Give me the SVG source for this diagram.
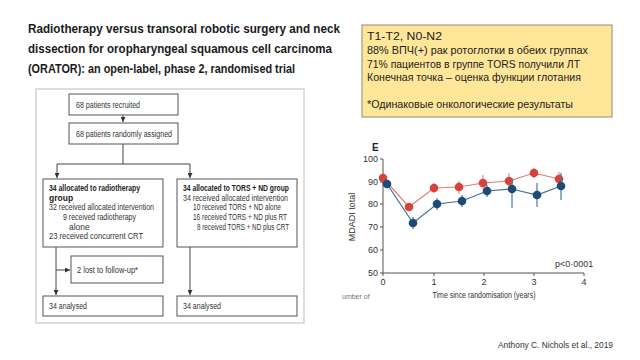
<svg xmlns="http://www.w3.org/2000/svg" width="640" height="360" viewBox="0 0 640 360">
<defs>
<marker id="ah" viewBox="0 0 10 10" refX="10" refY="5" markerWidth="5" markerHeight="5" orient="auto" markerUnits="userSpaceOnUse">
<path d="M0,0 L10,5 L0,10 Z" fill="#333"/>
</marker>
<style>
.title{font-family:"Liberation Sans",Arial,sans-serif;font-weight:bold;font-size:12.5px;fill:#1a1a1a}
.yb{font-family:"Liberation Sans",Arial,sans-serif;font-size:11px;fill:#222}
.box{fill:#fff;stroke:#555;stroke-width:1}
.ft{font-family:"Liberation Sans",Arial,sans-serif;font-size:8.5px;fill:#333}
.fb{font-family:"Liberation Sans",Arial,sans-serif;font-size:8.5px;font-weight:bold;fill:#222}
.con{fill:none;stroke:#444;stroke-width:1}
.ax{fill:none;stroke:#555;stroke-width:1}
.tl{font-family:"Liberation Sans",Arial,sans-serif;font-size:9px;fill:#333}
.rl{fill:none;stroke:#e07a74;stroke-width:1.2}
.bl{fill:none;stroke:#3f6f93;stroke-width:1.2}
.re{stroke:#e58a84;stroke-width:1.2}
.be{stroke:#4d7b9b;stroke-width:1.2}
.rp{fill:#d8423b}
.bp{fill:#1b4c78}
</style>
</defs>
<rect width="640" height="360" fill="#fff"/>

<g id="title">
<text class="title" x="28" y="33" textLength="312" lengthAdjust="spacingAndGlyphs">Radiotherapy versus transoral robotic surgery and neck</text>
<text class="title" x="28" y="53" textLength="304" lengthAdjust="spacingAndGlyphs">dissection for oropharyngeal squamous cell carcinoma</text>
<text class="title" x="28" y="73" textLength="267" lengthAdjust="spacingAndGlyphs">(ORATOR): an open-label, phase 2, randomised trial</text>
</g>

<g id="summary">
<rect x="362" y="25" width="250" height="92" fill="#ffe699" stroke="#8f8a7a" stroke-width="1"/>
<text class="yb" x="367" y="40" textLength="75" lengthAdjust="spacingAndGlyphs">T1-T2, N0-N2</text>
<text class="yb" x="367" y="54" textLength="221" lengthAdjust="spacingAndGlyphs">88% ВПЧ(+) рак ротоглотки в обеих группах</text>
<text class="yb" x="367" y="67.5" textLength="213" lengthAdjust="spacingAndGlyphs">71% пациентов в группе TORS получили ЛТ</text>
<text class="yb" x="367" y="81" textLength="214" lengthAdjust="spacingAndGlyphs">Конечная точка – оценка функции глотания</text>
<text class="yb" x="367" y="108" textLength="206" lengthAdjust="spacingAndGlyphs">*Одинаковые онкологические результаты</text>
</g>

<rect id="frame" x="36" y="89" width="268" height="234" fill="none" stroke="#d9d0d0" stroke-width="1.5"/>

<g id="connectors">
<path class="con" d="M123,115 V122" marker-end="url(#ah)"/>
<path class="con" d="M123,144 V164 M57,164 H190"/>
<path class="con" d="M57,164 V178" marker-end="url(#ah)"/>
<path class="con" d="M190,164 V178" marker-end="url(#ah)"/>
<path class="con" d="M56,247 V295" marker-end="url(#ah)"/>
<path class="con" d="M56,270 H70" marker-end="url(#ah)"/>
<path class="con" d="M190,247 V295" marker-end="url(#ah)"/>
</g>

<g id="recruited">
<rect class="box" x="69" y="94" width="109" height="21"/>
<text class="ft" x="76" y="108" textLength="64" lengthAdjust="spacingAndGlyphs">68 patients recruited</text>
</g>
<g id="randomised">
<rect class="box" x="69" y="123" width="109" height="21"/>
<text class="ft" x="76" y="137" textLength="96" lengthAdjust="spacingAndGlyphs">68 patients randomly assigned</text>
</g>
<g id="rt-group">
<rect class="box" x="43" y="179" width="120" height="68"/>
<text class="fb" x="49" y="191" textLength="91" lengthAdjust="spacingAndGlyphs">34 allocated to radiotherapy</text>
<text class="fb" x="49" y="200.5">group</text>
<text class="ft" x="49" y="210" textLength="105" lengthAdjust="spacingAndGlyphs">32 received allocated intervention</text>
<text class="ft" x="63" y="220" textLength="73" lengthAdjust="spacingAndGlyphs">9 received radiotherapy</text>
<text class="ft" x="69" y="229.5">alone</text>
<text class="ft" x="49" y="239" textLength="94" lengthAdjust="spacingAndGlyphs">23 received concurrent CRT</text>
</g>
<g id="tors-group">
<rect class="box" x="177" y="179" width="120" height="68"/>
<text class="fb" x="183" y="191" textLength="106" lengthAdjust="spacingAndGlyphs">34 allocated to TORS + ND group</text>
<text class="ft" x="183" y="200.5" textLength="105" lengthAdjust="spacingAndGlyphs">34 received allocated intervention</text>
<text class="ft" x="193" y="210" textLength="88" lengthAdjust="spacingAndGlyphs">10 received TORS + ND alone</text>
<text class="ft" x="193" y="220" textLength="94" lengthAdjust="spacingAndGlyphs">16 received TORS + ND plus RT</text>
<text class="ft" x="197" y="229.5" textLength="92" lengthAdjust="spacingAndGlyphs">8 received TORS + ND  plus CRT</text>
</g>
<g id="lost">
<rect class="box" x="71" y="256" width="92" height="27"/>
<text class="ft" x="77" y="272.5" textLength="61" lengthAdjust="spacingAndGlyphs">2 lost to follow-up*</text>
</g>
<g id="analysed-rt">
<rect class="box" x="43" y="296" width="120" height="20"/>
<text class="ft" x="49" y="309" textLength="38" lengthAdjust="spacingAndGlyphs">34 analysed</text>
</g>
<g id="analysed-tors">
<rect class="box" x="177" y="296" width="120" height="20"/>
<text class="ft" x="183" y="309" textLength="38" lengthAdjust="spacingAndGlyphs">34 analysed</text>
</g>

<g id="chart">
<text x="372" y="151" font-family="Liberation Sans,Arial,sans-serif" font-size="10" font-weight="bold" fill="#222">E</text>
<path class="ax" d="M383,159 V273 H584"/>
<path class="ax" d="M380,159 H383 M380,182 H383 M380,204 H383 M380,227 H383 M380,250 H383 M380,273 H383"/>
<path class="ax" d="M383,273 V276 M434,273 V276 M484,273 V276 M534,273 V276 M584,273 V276"/>
<g class="tl" text-anchor="end">
<text x="378" y="162">100</text>
<text x="378" y="185">90</text>
<text x="378" y="207">80</text>
<text x="378" y="230">70</text>
<text x="378" y="253">60</text>
<text x="378" y="276">50</text>
</g>
<g class="tl" text-anchor="middle">
<text x="383" y="285">0</text>
<text x="434" y="285">1</text>
<text x="484" y="285">2</text>
<text x="534" y="285">3</text>
<text x="584" y="285">4</text>
<text x="484" y="298" textLength="103" lengthAdjust="spacingAndGlyphs">Time since randomisation (years)</text>
</g>
<text class="tl" x="355" y="217" text-anchor="middle" transform="rotate(-90 355 217)" font-size="8.5">MDADI total</text>
<text class="tl" x="555" y="267" font-size="8.5">p&lt;0·0001</text>
<text x="342" y="299" font-family="Liberation Sans,Arial,sans-serif" font-size="7" fill="#777">umber of</text>

<g id="red-series">
<polyline class="rl" points="383,178 409,207 434,188 459,187 483,183 509,181 534,173 559,179"/>
<path class="re" d="M383,174 V182 M409,203 V211 M434,183 V193 M459,181 V194 M483,175 V189 M509,173 V187 M534,168 V178 M559,172 V185"/>
<g class="rp">
<circle cx="383" cy="178" r="4.3"/><circle cx="409" cy="207" r="4.3"/><circle cx="434" cy="188" r="4.3"/><circle cx="459" cy="187" r="4.3"/>
<circle cx="483" cy="183" r="4.3"/><circle cx="509" cy="181" r="4.3"/><circle cx="534" cy="173" r="4.3"/><circle cx="559" cy="179" r="4.3"/>
</g>
</g>
<g id="blue-series">
<polyline class="bl" points="387,184 413,223 437,204 462,201 487,191 512,189 537,195 561,186"/>
<path class="be" d="M387,180 V188 M413,217 V229 M437,198 V210 M462,195 V207 M487,185 V197 M512,178 V208 M537,183 V207 M561,173 V200"/>
<g class="bp">
<circle cx="387" cy="184" r="4.3"/><circle cx="413" cy="223" r="4.3"/><circle cx="437" cy="204" r="4.3"/><circle cx="462" cy="201" r="4.3"/>
<circle cx="487" cy="191" r="4.3"/><circle cx="512" cy="189" r="4.3"/><circle cx="537" cy="195" r="4.3"/><circle cx="561" cy="186" r="4.3"/>
</g>
</g>
</g>

<text x="498" y="348" font-family="Liberation Sans,Arial,sans-serif" font-size="9.5" fill="#333" textLength="115" lengthAdjust="spacingAndGlyphs">Anthony C. Nichols et al., 2019</text>
</svg>
